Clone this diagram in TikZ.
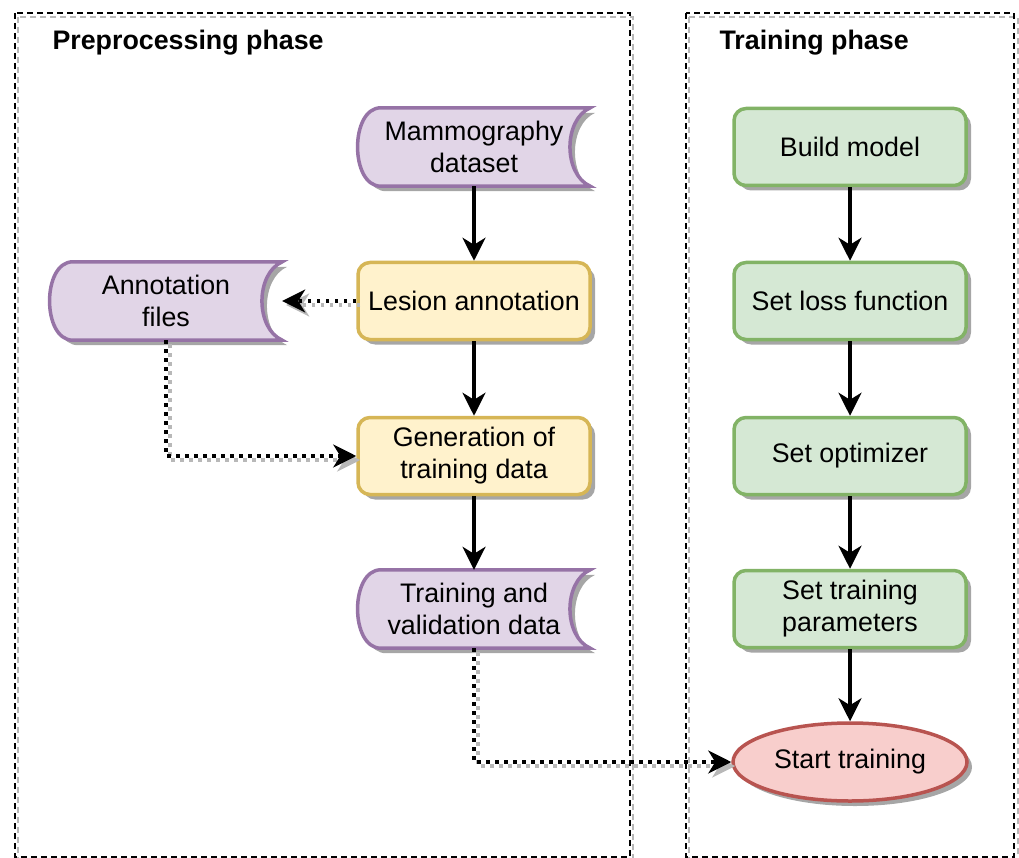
\documentclass[tikz,border=0pt]{standalone}
\usepackage{fontspec}
\setmainfont{Liberation Sans}
\usetikzlibrary{arrows.meta,shapes.geometric,shadows,backgrounds}
\definecolor{purF}{HTML}{E1D5E7}
\definecolor{purS}{HTML}{9673A6}
\definecolor{yelF}{HTML}{FFF2CC}
\definecolor{yelS}{HTML}{D6B656}
\definecolor{grnF}{HTML}{D5E8D4}
\definecolor{grnS}{HTML}{82B366}
\definecolor{redF}{HTML}{F8CECC}
\definecolor{redS}{HTML}{B85450}
\newcommand\dstore[1]{\path[datashape] ([xshift=23pt]#1.north west) -- (#1.north east) .. controls ([xshift=-27pt,yshift=-12pt]#1.north east) and ([xshift=-27pt,yshift=12pt]#1.south east) .. (#1.south east) -- ([xshift=23pt]#1.south west) .. controls ([xshift=-8pt]#1.south west) and ([xshift=-8pt]#1.north west) .. cycle;}
\begin{document}
\begin{tikzpicture}[x=1pt,y=-1pt,
 every node/.style={font=\fontsize{26.8}{32}\selectfont},
 shad/.style={drop shadow={shadow xshift=5pt,shadow yshift=-5pt,fill=black!35,opacity=1}},
 box/.style={rectangle, rounded corners=12pt, minimum width=232pt, minimum height=77pt, inner sep=0pt, line width=3.5pt, align=center, shad},
 ybox/.style={box, draw=yelS, fill=yelF},
 gbox/.style={box, draw=grnS, fill=grnF},
 data/.style={rectangle, minimum width=232pt, minimum height=78pt, inner sep=0pt, align=center},
 datashape/.style={draw=purS, fill=purF, line width=3.5pt, shad},
 arr/.style={line width=3.5pt, -{Stealth[length=23pt,width=23pt,inset=7pt]}},
 dotarr/.style={arr, dash pattern=on 3.5pt off 5.5pt},
 dotshadow/.style={dotarr, draw=black!28, transform canvas={xshift=4pt,yshift=-4pt}},
 frame/.style={line width=1.6pt, dash pattern=on 6pt off 4pt},
 title/.style={font=\fontsize{26.8}{32}\selectfont\bfseries, anchor=west}
]
\useasboundingbox (0,0) rectangle (1019,858);
% containers
\draw[frame, draw=black!28] (18,17) rectangle (633,861);
\draw[frame] (15,13) rectangle (630,857);
\draw[frame, draw=black!28] (689,17) rectangle (1018,861);
\draw[frame] (686,13) rectangle (1014,857);
\node[title] (t1) at (49,43) {Preprocessing phase};
\node[title] (t2) at (716,43) {Training phase};
% preprocessing nodes
\node[data] (mam) at (474,147) {Mammography\\dataset};
\node[ybox] (les) at (474,301) {Lesion annotation};
\node[data] (ann) at (166,301) {Annotation\\files};
\node[ybox] (gen) at (474,456) {Generation of\\training data};
\node[data] (tv) at (474,609) {Training and\\validation data};
% training nodes
\node[gbox] (build) at (850,147) {Build model};
\node[gbox] (loss) at (850,301) {Set loss function};
\node[gbox] (opt) at (850,456) {Set optimizer};
\node[gbox] (par) at (850,609) {Set training\\parameters};
\node[ellipse, minimum width=234pt, minimum height=78pt, inner sep=0pt, draw=redS, fill=redF, line width=3.5pt, shad] (start) at (850,762) {Start training};
\begin{scope}[on background layer]
\dstore{mam}
\dstore{ann}
\dstore{tv}
\end{scope}
% solid arrows
\draw[arr] (mam.south) -- (les.north);
\draw[arr] (les.south) -- (gen.north);
\draw[arr] (gen.south) -- (tv.north);
\draw[arr] (build.south) -- (loss.north);
\draw[arr] (loss.south) -- (opt.north);
\draw[arr] (opt.south) -- (par.north);
\draw[arr] (par.south) -- (start.north);
% dotted arrows
\draw[dotshadow] (les.west) -- (ann.east);
\draw[dotarr] (les.west) -- (ann.east);
\draw[dotshadow] (ann.south) |- (gen.west);
\draw[dotarr] (ann.south) |- (gen.west);
\draw[dotshadow] (tv.south) |- (start.west);
\draw[dotarr] (tv.south) |- (start.west);
\end{tikzpicture}
\end{document}
